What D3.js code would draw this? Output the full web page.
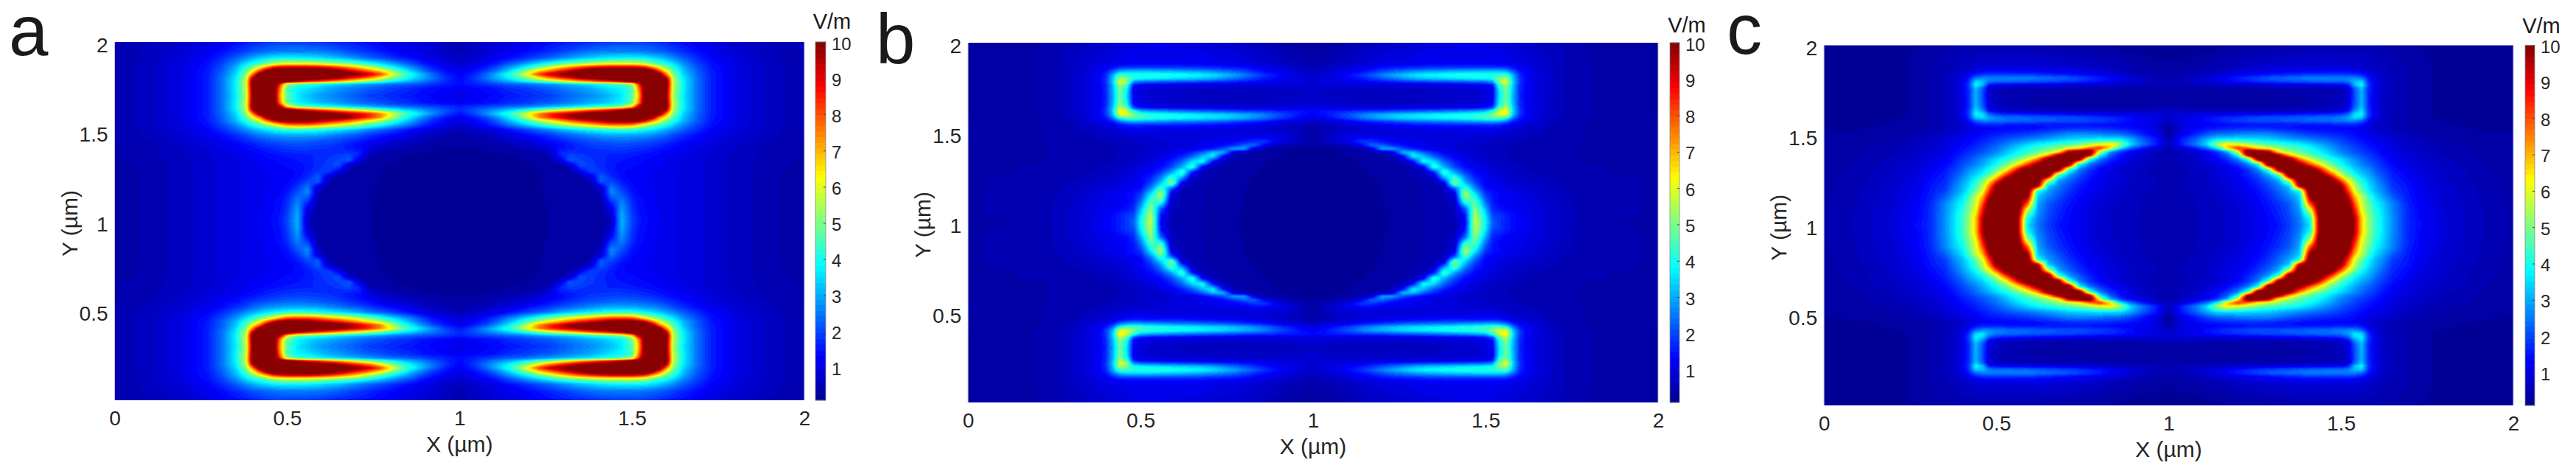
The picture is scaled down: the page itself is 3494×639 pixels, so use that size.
<!DOCTYPE html>
<html><head><meta charset="utf-8">
<script src="https://cdn.jsdelivr.net/npm/d3@7"></script>
<style>html,body{margin:0;padding:0;background:#fff}svg{display:block}text{font-family:"Liberation Sans",Arial,sans-serif}</style>
</head><body>
<svg id="fig" width="3494" height="639"></svg>
<script>
const panelLetters = ["a","b","c"];
const xTickValues = [0,0.5,1,1.5,2];
const yTickValues = [0.5,1,1.5,2];
const colorbarTicks = [1,2,3,4,5,6,7,8,9,10];
const colorDomain = [0.1,10];
const unitLabel = "V/m";
const xTitle = "X (\u00b5m)";
const yTitle = "Y (\u00b5m)";
// one quadrant of each field (X 0..1, Y 2..1); the other three are mirror images
const gridX = [0,.1,.2,.27,.31,.35,.38,.4,.42,.44,.46,.48,.5,.53,.56,.59,.62,.65,.68,.71,.74,.77,.8,.83,.86,.89,.92,.96,1];
const gridY = [2,1.95,1.91,1.88,1.86,1.84,1.82,1.8,1.78,1.765,1.74,1.7,1.66,1.64,1.62,1.6,1.58,1.56,1.54,1.51,1.48,1.45,1.43,1.41,1.39,1.37,1.34,1.31,1.28,1.25,1.22,1.19,1.16,1.12,1.08,1.04,1];
const fieldA = [
[.45,.55,.75,1,1.2,1.4,1.55,1.65,1.75,1.85,1.9,1.95,1.95,1.95,1.9,1.85,1.75,1.65,1.6,1.5,1.4,1.3,1.2,1.1,1,.9,.8,.6,.5],
[.45,.6,.85,1.15,1.4,1.7,1.9,2.1,2.2,2.3,2.4,2.45,2.5,2.5,2.5,2.45,2.35,2.2,2,1.85,1.7,1.5,1.35,1.2,1.1,1,.85,.65,.5],
[.45,.6,.95,1.3,1.7,2.2,2.7,3,3.3,3.5,3.7,3.8,3.8,3.8,3.7,3.6,3.4,3.2,2.9,2.6,2.3,2.1,1.85,1.6,1.4,1.2,1,.8,.65],
[.45,.65,1,1.45,1.95,2.7,3.5,4,4.4,4.9,5.5,5.8,6,6,6,5.8,5.5,5.2,4.9,4.5,4,3.5,3,2.5,2.1,1.6,1.3,1,.8],
[.45,.65,1.05,1.5,2.1,3,4.1,5,6,7.2,8.5,9,9.2,9.2,9.2,9,8.6,8,7.3,6.5,5.6,4.8,4,3.3,2.7,2.1,1.6,1.2,1],
[.45,.65,1.05,1.55,2.2,3.2,4.6,6,8,10,11,11,11,11,11,11,10.5,10,9.2,8.4,7.5,6.5,5.2,4.2,3.3,2.5,1.9,1.4,1.1],
[.45,.65,1.05,1.6,2.3,3.4,5,7.5,10.5,11,11,11,11,11,11,11,11,11,10.5,10,9.3,8.3,6.5,5,4,3.2,2.4,1.6,1.2],
[.45,.65,1.05,1.6,2.4,3.6,5.4,9.5,11,11,11,11,11,11,10.8,10.5,10.2,9.8,9,8.3,7.5,6.3,5.2,4.4,3.7,3.1,2.5,1.8,1.3],
[.45,.65,1.05,1.6,2.4,3.7,5.6,10.5,11,11,11,11,10.5,9.5,8.8,8.3,7.7,7.1,6.4,5.7,5,4.5,3.9,3.4,3,2.6,2.2,1.7,1.4],
[.45,.65,1.05,1.6,2.4,3.7,5.6,10.5,11,11,11,8.5,5.2,4.5,4.2,3.9,3.6,3.4,3.2,3,2.8,2.6,2.4,2.3,2.2,2,1.8,1.6,1.4],
[.45,.65,1.05,1.6,2.4,3.7,5.6,10.2,11,11,11,7.5,4.5,3.8,3.6,3.3,3,2.8,2.6,2.4,2.2,2.1,1.9,1.8,1.7,1.5,1.4,1.3,1.2],
[.45,.65,1.05,1.6,2.4,3.6,5.4,10,11,11,11,7,4.6,3.6,3.2,2.9,2.7,2.5,2.3,2.1,1.9,1.8,1.7,1.6,1.5,1.4,1.3,1.2,1.1],
[.45,.65,1.05,1.6,2.4,3.7,5.6,10.2,11,11,11,7.5,4.8,3.8,3.5,3.2,3,2.8,2.6,2.4,2.2,2.1,1.9,1.8,1.7,1.5,1.4,1.3,1.2],
[.45,.65,1.05,1.6,2.4,3.7,5.6,10.5,11,11,11,9.5,6.5,5,4.6,4.3,4,3.7,3.4,3.2,3,2.8,2.6,2.4,2.3,2.1,2,1.8,1.6],
[.45,.65,1.05,1.6,2.4,3.6,5.4,9.5,11,11,11,11,10.8,9.8,9,8.3,7.8,7.2,6.6,6,5.4,4.8,4.2,3.7,3.3,2.9,2.5,2.1,1.7],
[.45,.65,1.05,1.6,2.3,3.4,5,7.5,10.5,11,11,11,11,11,11,10.8,10.5,10,9.5,9,8.4,7.5,6.3,5,4.2,3.5,2.8,2,1.5],
[.45,.65,1.05,1.55,2.2,3.2,4.6,6,7.5,10,11,11,11,11,11,11,11,10.5,10,9.2,8.4,7.5,5.8,4.5,3.6,2.8,2.1,1.5,1.2],
[.45,.65,1.05,1.55,2.2,3.1,4.1,5,6,7.5,9,10,10.2,10.2,10,9.5,9,8.5,7.8,7,6.2,5.4,4.5,3.7,3,2.3,1.7,1.3,1],
[.45,.65,1,1.45,2,2.7,3.5,4.1,4.7,5.3,6,7,7.8,8,8,7.6,7,6.5,6,5.4,4.8,4.2,3.6,3,2.5,1.9,1.5,1.1,.85],
[.45,.6,.95,1.3,1.7,2.2,2.7,3,3.3,3.6,3.8,4,4.2,4.3,4.2,4,3.8,3.6,3.3,3,2.6,2.3,2,1.7,1.4,1.1,.9,.7,.55],
[.45,.6,.85,1.15,1.4,1.75,2,2.3,2.5,2.7,2.8,2.9,3,3,3,2.9,2.7,2.5,2.3,2.1,1.8,1.6,1.4,1.2,1,.8,.6,.5,.4],
[.4,.55,.8,1,1.25,1.45,1.7,1.85,2,2.1,2.2,2.25,2.3,2.35,2.3,2.2,2.1,2,1.8,1.6,1.4,1.2,1,.85,.7,.55,.45,.35,.3],
[.4,.5,.75,.95,1.15,1.3,1.5,1.6,1.75,1.85,1.95,2,2.05,2.1,2.05,2,1.95,1.8,1.6,1.4,1.2,1,.8,.65,.55,.45,.38,.3,.28],
[.4,.5,.72,.9,1.05,1.2,1.35,1.45,1.55,1.65,1.75,1.8,1.85,1.9,1.9,1.85,1.8,1.7,1.55,1.4,1.05,.8,.6,.5,.42,.35,.3,.25,.25],
[.4,.5,.7,.87,1,1.12,1.25,1.32,1.42,1.5,1.58,1.65,1.7,1.75,1.75,1.75,1.75,1.7,1.7,1.6,.8,.55,.42,.36,.32,.28,.25,.22,.2],
[.4,.5,.68,.85,.97,1.08,1.18,1.25,1.32,1.4,1.45,1.5,1.55,1.6,1.62,1.68,1.75,1.85,2,1.6,.5,.38,.32,.28,.25,.22,.2,.18,.16],
[.38,.48,.66,.82,.93,1.02,1.12,1.17,1.22,1.28,1.33,1.38,1.42,1.5,1.6,1.7,1.85,2,2.2,.9,.35,.3,.27,.24,.21,.19,.17,.16,.15],
[.35,.47,.65,.82,.92,1,1.08,1.13,1.18,1.22,1.27,1.32,1.36,1.4,1.55,1.7,1.9,2.1,.7,.35,.3,.27,.24,.21,.19,.17,.16,.15,.15],
[.33,.46,.65,.82,.92,1,1.06,1.1,1.15,1.18,1.22,1.27,1.3,1.35,1.55,1.8,2,1.2,.38,.32,.3,.26,.23,.2,.18,.16,.15,.15,.14],
[.32,.45,.65,.82,.92,1,1.05,1.1,1.13,1.17,1.2,1.24,1.25,1.4,1.7,2.2,1,.35,.32,.3,.28,.25,.22,.2,.18,.16,.15,.14,.14],
[.3,.45,.65,.82,.92,1,1.05,1.1,1.13,1.16,1.2,1.25,1.3,1.55,2,2.2,.5,.33,.32,.3,.28,.25,.22,.2,.17,.16,.15,.14,.13],
[.3,.45,.65,.82,.92,1,1.05,1.1,1.14,1.18,1.22,1.3,1.4,1.8,2.5,.9,.35,.33,.31,.3,.27,.24,.21,.19,.17,.15,.14,.13,.13],
[.3,.45,.65,.82,.92,1,1.05,1.1,1.15,1.2,1.25,1.3,1.5,2.1,2.7,.6,.33,.32,.3,.29,.27,.24,.21,.19,.17,.15,.14,.13,.13],
[.3,.45,.65,.82,.92,1,1.05,1.1,1.15,1.2,1.3,1.4,1.7,2.5,2,.4,.33,.32,.3,.29,.27,.24,.2,.18,.16,.15,.14,.13,.13],
[.3,.45,.65,.82,.92,1,1.05,1.1,1.16,1.22,1.32,1.45,1.8,2.8,1.2,.35,.32,.31,.3,.28,.26,.23,.2,.18,.16,.15,.14,.13,.13],
[.3,.45,.65,.82,.92,1,1.05,1.12,1.18,1.25,1.35,1.5,1.9,3,.8,.32,.31,.3,.29,.28,.26,.23,.2,.18,.16,.15,.14,.13,.13],
[.3,.45,.65,.82,.92,1,1.05,1.12,1.2,1.28,1.38,1.55,2,3.1,.6,.3,.3,.3,.29,.28,.26,.23,.2,.18,.16,.15,.14,.13,.13]
];
const fieldB = [
[.25,.3,.4,.5,.6,.7,.75,.8,.85,.9,.95,1,1,1,1,1,.95,.9,.85,.8,.75,.7,.65,.6,.55,.45,.35,.3,.25],
[.25,.3,.4,.55,.65,.75,.85,.9,.95,1,1.05,1.1,1.1,1.15,1.15,1.15,1.1,1.1,1.05,1,.95,.9,.85,.8,.7,.6,.5,.4,.35],
[.25,.3,.42,.55,.68,.8,.9,.95,1,1.05,1.1,1.1,1.1,1.15,1.15,1.15,1.1,1.1,1.05,1.05,1,.95,.9,.85,.75,.65,.55,.45,.4],
[.25,.3,.42,.55,.7,.85,1,1.05,1.15,1.25,1.3,1.35,1.35,1.35,1.35,1.35,1.35,1.3,1.3,1.25,1.2,1.15,1.1,1,.9,.8,.7,.55,.45],
[.25,.3,.42,.55,.72,.9,1.1,1.2,1.5,1.9,2,2,2,2,2,2,1.95,1.9,1.85,1.8,1.7,1.6,1.5,1.3,1.15,1,.85,.65,.55],
[.25,.3,.42,.55,.75,.95,1.2,1.45,2.3,3.1,3.3,3.3,3.3,3.3,3.2,3.2,3.1,3,2.9,2.7,2.5,2.3,2,1.7,1.4,1.2,1,.8,.65],
[.25,.3,.42,.55,.75,.95,1.25,1.7,3,4.5,4.3,4.2,4.2,4.2,4.2,4.1,4,3.9,3.8,3.6,3.3,3,2.6,2.2,1.8,1.5,1.2,.95,.75],
[.25,.3,.42,.55,.75,.95,1.25,1.75,3.2,5.5,5,4,3.8,3.7,3.6,3.5,3.4,3.3,3.2,3,2.7,2.4,2.1,1.8,1.5,1.3,1.1,.95,.8],
[.25,.3,.42,.55,.75,.95,1.3,1.8,3.4,6.2,5.2,2.6,2.2,2.1,2,1.9,1.85,1.8,1.7,1.65,1.6,1.5,1.4,1.3,1.2,1.1,1,.95,.85],
[.25,.3,.42,.55,.75,.95,1.25,1.7,3.2,5.3,4.4,1.5,1.2,1.1,1.05,1,1,.95,.95,.9,.9,.9,.85,.85,.85,.85,.85,.85,.85],
[.25,.3,.42,.55,.75,.95,1.25,1.7,3.1,5,3.8,1.1,.95,.85,.8,.78,.75,.75,.72,.72,.72,.72,.72,.72,.72,.72,.72,.72,.75],
[.25,.3,.42,.55,.75,.95,1.2,1.65,3,4.9,3.6,1.2,.95,.8,.75,.72,.7,.68,.66,.66,.66,.66,.66,.66,.66,.66,.66,.7,.7],
[.25,.3,.42,.55,.75,.95,1.25,1.7,3.1,5.1,3.9,1.3,1.05,.9,.85,.8,.78,.75,.75,.72,.72,.72,.72,.72,.72,.75,.75,.8,.85],
[.25,.3,.42,.55,.75,.95,1.25,1.75,3.3,5.6,4.6,1.9,1.4,1.2,1.15,1.1,1.05,1,1,.95,.95,.95,.9,.9,.9,.9,.95,1,1.05],
[.25,.3,.42,.55,.72,.95,1.25,1.9,3.4,6.5,5.8,4.2,3.2,2.9,2.8,2.6,2.5,2.4,2.3,2.2,2.1,2,1.9,1.85,1.8,1.7,1.6,1.5,1.35],
[.25,.3,.42,.52,.68,.95,1.25,1.8,3.2,6.2,6,5,4.5,4.2,4.1,4,3.9,3.8,3.7,3.6,3.5,3.3,3.1,2.9,2.6,2.2,1.9,1.5,1.2],
[.25,.3,.4,.5,.65,.9,1.2,1.5,2.4,3.9,4.5,4.5,4.3,4.1,4,3.9,3.8,3.7,3.6,3.5,3.4,3.2,3,2.7,2.4,2,1.7,1.3,1],
[.3,.35,.4,.48,.6,.85,1,1.2,1.5,2.3,2.7,2.9,2.8,2.7,2.6,2.5,2.4,2.4,2.3,2.2,2.1,1.9,1.75,1.6,1.4,1.2,1,.85,.65],
[.35,.38,.4,.45,.55,.75,.85,.95,1.05,1.3,1.5,1.6,1.6,1.55,1.5,1.5,1.5,1.45,1.4,1.35,1.3,1.25,1.15,1.05,.95,.85,.75,.6,.45],
[.35,.38,.4,.45,.5,.6,.7,.75,.8,.9,1,1.05,1.05,1.05,1,1,1,1,.95,.95,.9,.9,.85,.85,.85,.8,.7,.55,.35],
[.35,.38,.4,.45,.5,.55,.6,.65,.7,.75,.8,.85,.85,.9,.9,.9,.9,.95,.95,1,1,1.05,1.05,1.1,1.1,1.05,.95,.65,.3],
[.35,.38,.4,.42,.45,.5,.52,.55,.6,.62,.65,.7,.75,.8,.85,.9,.95,1,1.05,1.1,1.2,1.3,1.5,1.8,1.9,1.3,.9,.6,.3],
[.35,.38,.4,.42,.45,.48,.5,.52,.55,.58,.6,.65,.7,.75,.8,.9,.95,1,1.1,1.2,1.4,1.7,2.3,2.4,1.2,.7,.5,.35,.28],
[.35,.38,.4,.42,.45,.48,.5,.52,.54,.56,.6,.62,.68,.75,.8,.9,1,1.1,1.3,1.6,2.1,3,3,.9,.5,.35,.3,.25,.22],
[.35,.38,.4,.42,.45,.48,.5,.52,.54,.56,.6,.65,.7,.8,.9,1.1,1.3,1.7,2.3,3.3,3.2,.8,.5,.38,.32,.28,.25,.22,.2],
[.35,.38,.4,.42,.45,.48,.5,.52,.54,.58,.6,.65,.75,.85,1,1.2,1.6,2.2,3.2,3.8,1.3,.6,.42,.35,.3,.26,.23,.2,.18],
[.35,.38,.4,.42,.45,.48,.5,.52,.55,.6,.62,.7,.8,.95,1.2,1.6,2.3,3.5,4,1.4,.6,.42,.35,.3,.27,.24,.2,.18,.16],
[.38,.4,.42,.44,.47,.5,.55,.6,.65,.7,.75,.85,1,1.15,1.4,2,3,4.4,1.2,.55,.42,.36,.32,.28,.25,.22,.2,.18,.15],
[.38,.4,.42,.46,.5,.55,.6,.65,.7,.75,.85,.95,1.1,1.35,1.9,2.9,4.5,1.5,.6,.45,.38,.33,.3,.27,.24,.22,.2,.17,.15],
[.4,.42,.45,.5,.55,.6,.68,.72,.78,.85,.95,1.1,1.3,1.6,2.6,4.4,3,.7,.5,.42,.36,.32,.28,.25,.23,.2,.18,.15,.14],
[.4,.42,.45,.52,.6,.68,.75,.8,.85,.92,1,1.1,1.2,2,3.3,5.3,1,.55,.45,.38,.33,.3,.27,.24,.22,.19,.17,.14,.13],
[.4,.42,.45,.55,.65,.75,.85,.9,.95,1.05,1.15,1.25,1.4,2.6,4.5,2.2,.6,.5,.42,.37,.32,.29,.26,.23,.2,.18,.16,.14,.13],
[.4,.42,.45,.58,.7,.85,.98,1.05,1.15,1.25,1.35,1.5,1.8,3.6,5.6,1,.55,.48,.42,.36,.32,.29,.26,.22,.19,.17,.15,.14,.13],
[.4,.42,.45,.62,.75,.9,1,1.05,1.1,1.2,1.3,1.5,2.3,4.5,4.5,.6,.55,.48,.42,.36,.32,.29,.25,.22,.19,.16,.15,.14,.13],
[.4,.42,.45,.62,.78,.92,1.05,1.12,1.2,1.3,1.45,1.7,3,5.2,2.2,.6,.55,.48,.42,.36,.32,.28,.25,.22,.19,.16,.14,.13,.12],
[.4,.42,.45,.65,.8,.95,1.15,1.25,1.4,1.6,1.85,2,3.6,5.6,1.4,.55,.5,.45,.4,.35,.3,.27,.24,.21,.18,.15,.13,.12,.12],
[.4,.4,.45,.65,.8,.95,1.15,1.25,1.4,1.6,1.85,2.3,3.8,5.8,1.2,.55,.5,.45,.4,.35,.3,.27,.24,.21,.18,.15,.13,.12,.12]
];
const fieldC = [
[.15,.15,.18,.25,.3,.35,.4,.42,.45,.45,.45,.45,.45,.45,.45,.45,.42,.4,.38,.35,.32,.3,.28,.25,.2,.18,.15,.15,.15],
[.15,.15,.2,.28,.35,.45,.5,.55,.55,.6,.6,.6,.6,.6,.6,.6,.6,.58,.55,.52,.5,.45,.42,.38,.32,.28,.25,.2,.18],
[.15,.15,.2,.3,.4,.5,.55,.6,.65,.7,.75,.75,.8,.8,.8,.8,.8,.75,.72,.7,.65,.6,.55,.5,.45,.4,.35,.3,.25],
[.15,.15,.2,.3,.42,.5,.6,.65,.7,.78,.85,.9,.9,.9,.9,.9,.9,.88,.85,.8,.75,.7,.65,.58,.5,.45,.4,.35,.3],
[.15,.15,.2,.3,.42,.52,.62,.72,.85,1.05,1.2,1.25,1.25,1.25,1.2,1.2,1.2,1.15,1.1,1.05,1,.9,.82,.72,.62,.52,.45,.38,.33],
[.15,.15,.2,.3,.42,.55,.7,.85,1.15,1.55,1.75,1.8,1.8,1.8,1.8,1.8,1.7,1.6,1.5,1.4,1.3,1.2,1.05,.9,.78,.65,.52,.45,.38],
[.15,.15,.2,.3,.42,.58,.75,.95,1.5,2.3,2.6,2.6,2.6,2.6,2.6,2.6,2.5,2.4,2.3,2.2,2,1.8,1.6,1.35,1.1,.9,.7,.55,.45],
[.15,.15,.2,.3,.42,.58,.78,1.05,1.7,3.4,3.2,2.5,2.4,2.4,2.3,2.3,2.2,2.1,2,1.9,1.8,1.6,1.45,1.25,1.05,.9,.75,.6,.5],
[.15,.15,.2,.3,.42,.58,.78,1.1,1.85,3.9,3.2,1.5,1.2,1.15,1.1,1.05,1,1,.95,.9,.85,.8,.75,.7,.65,.6,.55,.5,.5],
[.15,.15,.2,.3,.42,.58,.75,1.05,1.75,3.3,2.3,.9,.65,.6,.55,.55,.55,.52,.5,.5,.48,.48,.45,.45,.45,.42,.42,.42,.42],
[.15,.15,.2,.3,.42,.58,.75,1.05,1.7,3.1,2.1,.8,.6,.5,.45,.42,.42,.4,.4,.38,.36,.36,.36,.36,.36,.36,.36,.36,.36],
[.15,.15,.2,.3,.42,.58,.75,1,1.65,3.1,2.1,.85,.6,.48,.42,.4,.38,.36,.35,.35,.33,.32,.32,.32,.32,.32,.32,.32,.32],
[.15,.15,.2,.3,.42,.58,.75,1.05,1.7,3.2,2.2,.95,.7,.55,.48,.45,.42,.4,.38,.38,.38,.38,.38,.38,.38,.4,.4,.45,.45],
[.15,.15,.2,.3,.42,.58,.75,1.05,1.8,3.5,2.7,1.2,.85,.7,.65,.6,.58,.55,.55,.52,.5,.5,.5,.5,.5,.5,.55,.6,.65],
[.15,.15,.2,.3,.42,.58,.75,1.1,1.9,3.8,3.5,2.2,1.8,1.6,1.55,1.45,1.4,1.35,1.3,1.2,1.2,1.1,1.1,1.05,1,1,.95,.9,.85],
[.15,.15,.2,.3,.42,.58,.75,1,1.7,3.4,3.6,2.9,2.6,2.4,2.4,2.3,2.2,2.2,2.1,2.1,2,1.9,1.8,1.7,1.6,1.4,1.2,1,.8],
[.2,.2,.25,.3,.42,.55,.7,.9,1.4,2.2,2.6,2.6,2.5,2.4,2.3,2.3,2.2,2.2,2.1,2.1,2.1,2,1.9,1.8,1.6,1.4,1.2,1,.7],
[.2,.22,.28,.33,.42,.55,.65,.8,1.05,1.5,1.7,1.7,1.65,1.6,1.55,1.5,1.5,1.5,1.5,1.5,1.5,1.45,1.4,1.4,1.3,1.25,1.1,.95,.4],
[.22,.24,.28,.33,.42,.55,.65,.8,.95,1.1,1.25,1.3,1.3,1.3,1.3,1.35,1.45,1.5,1.6,1.7,1.7,1.7,1.7,1.65,1.55,1.45,1.3,1.1,.25],
[.25,.28,.35,.45,.55,.7,.85,.95,1.05,1.2,1.35,1.5,1.55,1.65,1.75,1.85,2,2.2,2.4,2.6,2.65,2.6,2.5,2.4,2.3,2,1.6,1.1,.3],
[.28,.32,.4,.55,.65,.85,1.05,1.15,1.25,1.4,1.55,1.7,1.85,2.1,2.3,2.5,2.7,2.9,3.1,3.3,3.4,3.5,3.6,3.6,3.5,3,2.3,1.6,.5],
[.28,.35,.45,.6,.75,.95,1.15,1.3,1.45,1.6,1.8,2,2.2,2.6,3,3.4,3.8,4,4.3,4.6,5,5.5,6,6.5,5.5,3.5,2.6,1.7,.6],
[.3,.38,.5,.65,.8,1,1.25,1.4,1.55,1.75,1.95,2.2,2.4,2.9,3.4,3.9,4.3,4.7,5.2,5.8,6.2,7.5,8.5,6.8,3.8,2.4,1.7,1,.5],
[.3,.4,.52,.7,.85,1,1.3,1.5,1.7,1.9,2.1,2.35,2.6,3.2,3.7,4.2,4.7,5.3,6,9.5,10.5,11,6,3,1.8,1.3,.9,.6,.45],
[.3,.4,.55,.75,.95,1.1,1.4,1.65,1.85,2.1,2.35,2.6,2.9,3.5,4.1,4.7,5.5,7,9.8,11,11,10,4,2.2,1.5,1.1,.8,.6,.45],
[.3,.42,.6,.8,1,1.2,1.55,1.8,2.05,2.35,2.7,3.1,3.5,4,4.8,5.8,7.5,10.2,11,11,11,4.5,2.6,1.8,1.3,1,.75,.6,.45],
[.3,.45,.65,.85,1.05,1.3,1.7,2,2.3,2.6,3,3.4,3.9,4.8,6.2,8,10,11,11,11,4,2.5,1.8,1.35,1.05,.85,.7,.55,.45],
[.32,.48,.7,.9,1.15,1.5,1.9,2.2,2.7,3,3.4,4,4.7,6.2,8.8,11,11,11,10.5,4.5,2.6,1.8,1.3,1.05,.85,.72,.62,.52,.45],
[.32,.5,.72,1,1.3,1.6,2.1,2.5,3,3.4,3.9,4.8,5.8,8.5,10.5,11,11,11,4.5,2.9,2.1,1.6,1.25,1,.85,.72,.62,.52,.45],
[.35,.5,.75,1.05,1.4,1.7,2.3,2.8,3.3,3.9,5,6.2,8,10.8,11,11,11,6,3,2.3,1.8,1.4,1.15,.98,.85,.72,.65,.58,.5],
[.35,.52,.78,1.1,1.5,1.8,2.5,3,3.6,4.4,5.5,7.5,10,11,11,11,10,3.4,2.6,2,1.6,1.3,1.1,.92,.8,.7,.62,.55,.48],
[.35,.55,.8,1.15,1.55,1.9,2.7,3.1,3.8,4.8,6,8.5,10.5,11,11,11,4,2.9,2.3,1.8,1.45,1.2,1,.88,.75,.68,.6,.55,.47],
[.35,.55,.82,1.2,1.6,2.2,3,3.5,4.4,5.6,7,9.5,11,11,11,10,3.3,2.6,2.1,1.65,1.35,1.12,.95,.82,.72,.65,.58,.52,.46],
[.38,.58,.85,1.25,1.7,2.6,3.4,3.8,4.8,5.8,8,10.5,11,11,11,8,3,2.2,1.8,1.5,1.25,1.05,.9,.78,.68,.62,.56,.52,.46],
[.38,.58,.88,1.3,1.75,2.65,3.5,4.1,5,6.2,8.8,11,11,11,11,5.5,2.8,2.1,1.7,1.4,1.2,1,.85,.75,.66,.6,.55,.5,.46],
[.38,.6,.9,1.3,1.75,2.7,3.6,4.3,5.2,6.8,9.5,11,11,11,10.5,4,2.6,2,1.6,1.35,1.15,.98,.84,.74,.65,.6,.55,.5,.46],
[.38,.6,.9,1.4,1.75,2.7,3.6,4.3,5.2,6.8,9.5,11,11,11,10.5,3.6,2.5,1.9,1.5,1.3,1.15,.98,.84,.74,.65,.6,.55,.5,.46]
];
const fields = [fieldA, fieldB, fieldC];

const jetStops = [0,.125,.375,.625,.875,1];
const jetColors = ["#00008f","#0000ff","#00ffff","#ffff00","#ff0000","#800000"];
const jet = d3.scaleLinear().domain(jetStops).range(jetColors).interpolate(d3.interpolateRgb);
const levelColors = d3.range(64).map(i=>jet((i+.5)/64));
const color = d3.scaleQuantize().domain(colorDomain).range(levelColors);

const layouts = [
 {x0:155.5,x1:1091,y0:57,y1:543,cb0:1106,cb1:1120,unitX:1128.5,unitY:39,lx:12,ly:75},
 {x0:1313,x1:2249,y0:58,y1:546,cb0:2265,cb1:2278,unitX:2288,unitY:44,lx:1188,ly:86},
 {x0:2474,x1:3409,y0:61.5,y1:550,cb0:3425,cb1:3438,unitX:3447,unitY:45,lx:2342,ly:73}
];
const svg = d3.select("#fig");
const inkColor = "#262626";

function sampleField(field, X, Y){
  const fx = X<=1 ? X : 2-X, fy = Y>=1 ? Y : 2-Y;
  let i = d3.bisectRight(gridX, fx)-1; i = Math.max(0, Math.min(gridX.length-2, i));
  let j = 0; while(j<gridY.length-2 && gridY[j+1]>=fy) j++;
  const tx = (fx-gridX[i])/(gridX[i+1]-gridX[i]);
  const ty = (gridY[j]-fy)/(gridY[j]-gridY[j+1]);
  const a = field[j][i], b = field[j][i+1], c = field[j+1][i], d = field[j+1][i+1];
  return (a*(1-tx)+b*tx)*(1-ty)+(c*(1-tx)+d*tx)*ty;
}
function boxBlur(vals,w,h,rx,ry){
  const t = new Float32Array(w*h), o = new Float32Array(w*h);
  for(let y=0;y<h;y++)for(let x=0;x<w;x++){let s=0,n=0;for(let k=-rx;k<=rx;k++){const q=x+k;if(q>=0&&q<w){s+=vals[y*w+q];n++;}}t[y*w+x]=s/n;}
  for(let y=0;y<h;y++)for(let x=0;x<w;x++){let s=0,n=0;for(let k=-ry;k<=ry;k++){const q=y+k;if(q>=0&&q<h){s+=t[q*w+x];n++;}}o[y*w+x]=s/n;}
  return o;
}

panelLetters.forEach((letter,k)=>{
  const L = layouts[k];
  const x = d3.scaleLinear().domain([0,2]).range([L.x0,L.x1]);
  const y = d3.scaleLinear().domain([0,2]).range([L.y1,L.y0]);
  const g = svg.append("g");
  // heat map
  const W = Math.round(L.x1-L.x0), H = Math.round(L.y1-L.y0);
  let vals = new Float32Array(W*H);
  for(let py=0;py<H;py++){
    const Y = y.invert(L.y0+(py+.5)*(L.y1-L.y0)/H);
    for(let px=0;px<W;px++){
      const X = x.invert(L.x0+(px+.5)*(L.x1-L.x0)/W);
      vals[py*W+px] = sampleField(fields[k],X,Y);
    }
  }
  vals = boxBlur(vals,W,H,1,1);
  const cv = document.createElement("canvas"); cv.width=W; cv.height=H;
  const ctx = cv.getContext("2d"); const img = ctx.createImageData(W,H);
  for(let i=0;i<W*H;i++){
    const c = d3.rgb(color(Math.min(colorDomain[1],vals[i])));
    img.data[i*4]=c.r; img.data[i*4+1]=c.g; img.data[i*4+2]=c.b; img.data[i*4+3]=255;
  }
  ctx.putImageData(img,0,0);
  g.append("image").attr("x",L.x0).attr("y",L.y0).attr("width",L.x1-L.x0).attr("height",L.y1-L.y0)
    .attr("preserveAspectRatio","none").attr("href",cv.toDataURL());
  // pale frame edges
  [L.x0,L.x1].forEach(v=>g.append("line").attr("x1",v).attr("x2",v).attr("y1",L.y0).attr("y2",L.y1).attr("stroke","#b9bde8").attr("stroke-width",1));
  // axes
  const xAxis = d3.axisBottom(x).tickValues(xTickValues).tickSize(0).tickPadding(0).tickFormat(d3.format("~g"));
  const gx = g.append("g").attr("transform",`translate(0,${L.y1})`).call(xAxis);
  gx.select(".domain").remove();
  gx.selectAll("text").attr("dy",null).attr("y",34).attr("fill",inkColor).attr("font-size",28).attr("font-family",'"Liberation Sans",Arial,sans-serif');
  const yAxis = d3.axisLeft(y).tickValues(yTickValues).tickSize(0).tickPadding(0).tickFormat(d3.format("~g"));
  const gy = g.append("g").attr("transform",`translate(${L.x0},0)`).call(yAxis);
  gy.select(".domain").remove();
  gy.selectAll("text").attr("dy",null).attr("x",-9).attr("y",13).attr("fill",inkColor).attr("font-size",28).attr("font-family",'"Liberation Sans",Arial,sans-serif');
  g.append("text").attr("x",(L.x0+L.x1)/2).attr("y",L.y1+70).attr("text-anchor","middle").attr("fill",inkColor).attr("font-size",30).text(xTitle);
  g.append("text").attr("transform",`translate(${L.x0-51},${(L.y0+L.y1)/2+3}) rotate(-90)`).attr("text-anchor","middle").attr("fill",inkColor).attr("font-size",30).text(yTitle);
  // colour bar
  const cbY = d3.scaleLinear().domain(colorDomain).range([L.y1,L.y0]);
  g.append("g").selectAll("rect").data(levelColors).join("rect")
    .attr("x",L.cb0).attr("width",L.cb1-L.cb0)
    .attr("y",(d,i)=>cbY(colorDomain[0]+(i+1)*(colorDomain[1]-colorDomain[0])/64)-.3)
    .attr("height",(L.y1-L.y0)/64+.6).attr("fill",d=>d);
  g.append("rect").attr("x",L.cb0).attr("y",L.y0).attr("width",L.cb1-L.cb0).attr("height",L.y1-L.y0).attr("fill","none").attr("stroke","#8a8a8a").attr("stroke-width",.8);
  const cbAxis = d3.axisRight(cbY).tickValues(colorbarTicks).tickSize(-3).tickPadding(11).tickFormat(d3.format("d"));
  const gc = g.append("g").attr("transform",`translate(${L.cb1},0)`).call(cbAxis);
  gc.select(".domain").remove();
  gc.selectAll("line").attr("stroke","#404040").attr("stroke-width",1);
  gc.selectAll("text").attr("dy",null).attr("y",10).attr("x",8).attr("fill",inkColor).attr("font-size",24).attr("font-family",'"Liberation Sans",Arial,sans-serif');
  g.append("text").attr("x",L.unitX).attr("y",L.unitY).attr("text-anchor","middle").attr("fill","#1a1a1a").attr("font-size",29).text(unitLabel);
  g.append("text").attr("x",L.lx).attr("y",L.ly).attr("fill","#1a1a1a").attr("font-size",96).text(letter);
});
</script>
</body></html>
